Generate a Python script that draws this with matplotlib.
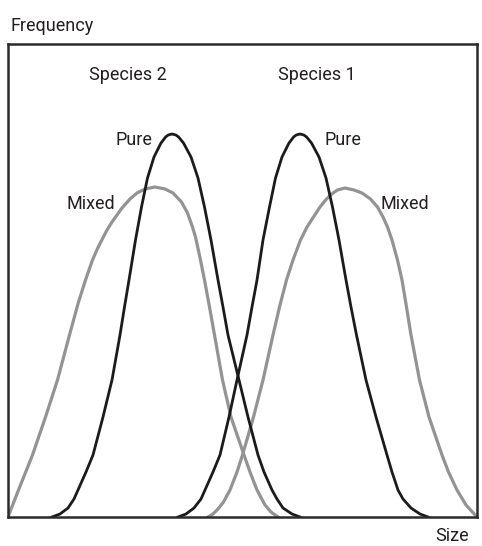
import matplotlib.pyplot as plt

# curves: (size, frequency)
sp2_pure_size = [44, 52, 60, 66, 70, 78, 85, 95, 104, 112, 116.5, 121, 127.5, 133.5, 139.5,
                 146, 153, 157.6, 160.3, 164, 167.8, 170.6, 175.5, 183, 190, 196.5, 203,
                 210, 215, 220, 231, 240, 250, 256, 264, 269, 275, 284, 292]
sp2_pure_freq = [0, 3, 9, 18, 27, 45, 62, 100, 137, 182, 210, 237, 277, 310, 339,
                 360, 374, 380, 382, 383, 382, 380, 374, 360, 339, 310, 277,
                 237, 210, 182, 137, 100, 62, 45, 27, 18, 9, 3, 0]

sp1_pure_size = [170, 178, 186, 193, 197, 205, 212, 221, 229, 239, 244, 249, 255, 261.5, 267.5,
                 274, 281, 285.6, 288.3, 292, 295.8, 298.6, 303.5, 311, 318, 324.5, 331,
                 338, 343, 348.5, 358, 368, 379, 384, 390, 395, 403, 412, 420]
sp1_pure_freq = [0, 3, 9, 18, 27, 45, 62, 100, 137, 182, 210, 237, 277, 310, 339,
                 360, 374, 380, 382, 383, 382, 380, 374, 360, 339, 310, 277,
                 237, 210, 182, 137, 100, 62, 45, 27, 18, 9, 3, 0]

sp2_mixed_size = [0, 10.5, 24.5, 37.5, 49.5, 61.5, 70.5, 77.5, 84.5, 89.3, 93.8, 99, 104, 114,
                  122, 129, 137, 147, 157, 165, 173.5, 179.5, 184.5, 187.5, 192.5, 196.5,
                  201.5, 206.5, 214.5, 223, 236, 242, 249, 257, 263, 270]
sp2_mixed_freq = [0, 27, 62, 100, 137, 182, 215, 237, 257, 268, 277, 287, 295, 309,
                  318, 324, 328, 330, 328, 324, 315, 304, 290, 280, 257, 237,
                  210, 182, 137, 100, 62, 45, 27, 12, 5, 0]

sp1_mixed_size = [200, 205, 210, 215.5, 222, 229, 234.5, 245.5, 255, 265, 271.5, 278.5, 285,
                  292.5, 299, 312, 318.5, 325, 329.5, 337, 346, 354, 362.5, 369.5, 375,
                  379.5, 384, 389.5, 394, 398.5, 403, 411.5, 421, 434, 440.5, 449, 458, 469]
sp1_mixed_freq = [0, 3, 8, 15, 27, 45, 62, 100, 137, 182, 210, 237, 257,
                  277, 290, 310, 318, 324, 327, 329, 327, 324, 318, 310, 300,
                  290, 277, 257, 237, 210, 182, 137, 100, 62, 45, 27, 12, 0]

plt.rcParams['font.family'] = ['Roboto', 'DejaVu Sans']

fig = plt.figure(figsize=(4.82, 5.46), dpi=100)
ax = fig.add_axes([8 / 482, 29 / 546, 469 / 482, 473 / 546])

black = '#1b1b1b'
gray = '#939393'
ax.plot(sp2_mixed_size, sp2_mixed_freq, color=gray, lw=2.3)
ax.plot(sp1_mixed_size, sp1_mixed_freq, color=gray, lw=2.3)
ax.plot(sp2_pure_size, sp2_pure_freq, color=black, lw=2.0)
ax.plot(sp1_pure_size, sp1_pure_freq, color=black, lw=2.0)

ax.set_xlim(0, 469)
ax.set_ylim(0, 473)
ax.set_xticks([])
ax.set_yticks([])
for s in ax.spines.values():
    s.set_linewidth(1.8)
    s.set_color('#2a2a2a')
    s.set_zorder(5)

tc = '#231f20'
fs = 13
ax.text(120, 442, 'Species 2', ha='center', va='center', fontsize=fs, color=tc)
ax.text(309, 442, 'Species 1', ha='center', va='center', fontsize=fs, color=tc)
ax.text(144, 377, 'Pure', ha='right', va='center', fontsize=fs, color=tc)
ax.text(316, 377, 'Pure', ha='left', va='center', fontsize=fs, color=tc)
ax.text(107, 313, 'Mixed', ha='right', va='center', fontsize=fs, color=tc)
ax.text(373, 313, 'Mixed', ha='left', va='center', fontsize=fs, color=tc)
ax.text(3, 491, 'Frequency', ha='left', va='center', fontsize=fs, color=tc, clip_on=False)
ax.text(461, -19, 'Size', ha='right', va='center', fontsize=fs, color=tc, clip_on=False)

fig.savefig('out.png', dpi=100)
